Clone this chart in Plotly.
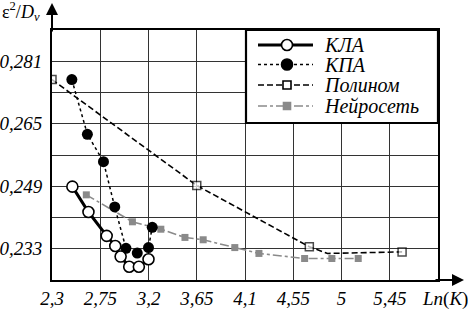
import plotly.graph_objects as go

# ---- data ----
series_names = ["КЛА", "КПА", "Полином", "Нейросеть"]

kla_x = [2.49, 2.64, 2.81, 2.89, 2.94, 3.02, 3.11, 3.20]
kla_y = [0.2489, 0.2424, 0.2363, 0.2337, 0.2310, 0.2284, 0.2284, 0.2303]

kpa_x = [2.485, 2.63, 2.78, 2.885, 2.99, 3.095, 3.20, 3.235]
kpa_y = [0.2763, 0.2623, 0.2553, 0.2437, 0.2331, 0.2319, 0.2333, 0.2385]

pol_x = [2.3, 3.65, 4.70, 4.87, 5.565]
pol_y = [0.2763, 0.2492, 0.2335, 0.2318, 0.2322]
pol_marker = [8, 8, 8, 0, 8]

nn_x = [2.62, 3.05, 3.315, 3.54, 3.71, 4.005, 4.23, 4.656, 4.91, 5.156]
nn_y = [0.2468, 0.2399, 0.2380, 0.2359, 0.2353, 0.2333, 0.2318, 0.2305, 0.2305, 0.2305]

x_ticks = [2.3, 2.75, 3.2, 3.65, 4.1, 4.55, 5.0, 5.45, 5.9]
x_labels = ["2,3", "2,75", "3,2", "3,65", "4,1", "4,55", "5", "5,45", ""]
y_ticks = [0.225, 0.233, 0.241, 0.249, 0.257, 0.265, 0.273, 0.281, 0.289]
y_labels = ["", "0,233", "", "0,249", "", "0,265", "", "0,281", ""]

FONT = "Liberation Serif, Times New Roman, serif"
GRAY = "#8a8a8a"

# figure geometry (px) used to place the hand-drawn legend
W, H = 468, 310
ML, MR, MT, MB = 52, 30, 30, 30
PW, PH = W - ML - MR, H - MT - MB


def px(x):
    return (x - ML) / PW


def py(y):
    return (H - MB - y) / PH


fig = go.Figure()

fig.add_trace(go.Scatter(
    x=nn_x, y=nn_y, name=series_names[3], mode="lines+markers", showlegend=False,
    line=dict(color=GRAY, width=1.6, dash="dashdot"),
    marker=dict(symbol="square", size=7, color=GRAY)))
fig.add_trace(go.Scatter(
    x=pol_x, y=pol_y, name=series_names[2], mode="lines+markers", showlegend=False,
    line=dict(color="black", width=1.6, dash="6px,3px"),
    marker=dict(symbol="square", size=pol_marker, color="white",
                line=dict(color="black", width=1.5))))
fig.add_trace(go.Scatter(
    x=kpa_x, y=kpa_y, name=series_names[1], mode="lines+markers", showlegend=False,
    line=dict(color="black", width=1.5, dash="dot"),
    marker=dict(symbol="circle", size=11, color="black")))
fig.add_trace(go.Scatter(
    x=kla_x, y=kla_y, name=series_names[0], mode="lines+markers", showlegend=False,
    line=dict(color="black", width=3),
    marker=dict(symbol="circle", size=11, color="white",
                line=dict(color="black", width=1.6))))

italic = dict(family=FONT, size=19, style="italic", color="black")

fig.update_layout(
    width=W, height=H,
    margin=dict(l=ML, r=MR, t=MT, b=MB, autoexpand=False),
    paper_bgcolor="white", plot_bgcolor="white",
    font=dict(family=FONT, size=18, color="black"),
    showlegend=False,
    xaxis=dict(range=[2.3, 5.9], tickvals=x_ticks, ticktext=x_labels,
               showgrid=True, gridcolor="#333333", gridwidth=1,
               showline=True, linecolor="black", linewidth=2, mirror=True,
               zeroline=False, ticks="", tickfont=italic, automargin=False),
    yaxis=dict(range=[0.225, 0.289], tickvals=y_ticks, ticktext=y_labels,
               showgrid=True, gridcolor="#333333", gridwidth=1,
               showline=True, linecolor="black", linewidth=2, mirror=True,
               zeroline=False, ticks="", tickfont=italic, automargin=False,
               ticklabelstandoff=4),
)

# ---- hand-drawn legend box ----
fig.add_shape(type="rect", xref="paper", yref="paper", layer="above",
              x0=px(246), x1=px(438), y0=py(123), y1=py(30),
              fillcolor="white", line=dict(color="black", width=2.2))

rows = [45, 64.5, 85, 106]
styles = [
    dict(line=dict(color="black", width=3), sym="circle", fill="white", edge="black", r=5.5),
    dict(line=dict(color="black", width=1.5, dash="dot"), sym="circle", fill="black", edge="black", r=5.5),
    dict(line=dict(color="black", width=1.6, dash="6px,3px"), sym="rect", fill="white", edge="black", r=4),
    dict(line=dict(color=GRAY, width=1.6, dash="dashdot"), sym="rect", fill=GRAY, edge=GRAY, r=3.5),
]
for name, yc, st in zip(series_names, rows, styles):
    fig.add_shape(type="line", xref="paper", yref="paper", layer="above",
                  x0=px(258), x1=px(313), y0=py(yc), y1=py(yc), line=st["line"])
    r = st["r"]
    fig.add_shape(type=st["sym"], xref="paper", yref="paper", layer="above",
                  xsizemode="pixel", ysizemode="pixel",
                  xanchor=px(287), yanchor=py(yc),
                  x0=-r, x1=r, y0=-r, y1=r,
                  fillcolor=st["fill"], line=dict(color=st["edge"], width=1.6))
    fig.add_annotation(x=px(322), y=py(yc), xref="paper", yref="paper",
                       text=name, showarrow=False, xanchor="left", yanchor="middle",
                       font=dict(family=FONT, size=20, style="italic", color="black"))

# ---- axis arrows and titles ----
fig.add_annotation(x=px(464), y=0, xref="paper", yref="paper", ax=-30, ay=0,
                   text="", showarrow=True, arrowhead=2, arrowsize=1.2,
                   arrowwidth=2, arrowcolor="black")
fig.add_annotation(x=0, y=py(3), xref="paper", yref="paper", ax=0, ay=30,
                   text="", showarrow=True, arrowhead=2, arrowsize=1.2,
                   arrowwidth=2, arrowcolor="black")
fig.add_annotation(x=px(445), y=py(299), xref="paper", yref="paper",
                   text="<i>Ln</i>(<i>K</i>)", showarrow=False,
                   xanchor="center", yanchor="middle",
                   font=dict(family=FONT, size=19))
fig.add_annotation(x=px(0), y=py(12), xref="paper", yref="paper",
                   text="ε<sup>2</sup>/<i>D</i><sub><i>v</i></sub>", showarrow=False,
                   xanchor="left", yanchor="middle",
                   font=dict(family=FONT, size=18))

fig.write_html("out.html", config={"displayModeBar": False, "staticPlot": True})

# remove the browser's default page margin so the figure sits at (0, 0)
with open("out.html", encoding="utf-8") as f:
    html = f.read()
html = html.replace("<head>", "<head><style>html,body{margin:0;padding:0;overflow:hidden;}</style>", 1)
with open("out.html", "w", encoding="utf-8") as f:
    f.write(html)
